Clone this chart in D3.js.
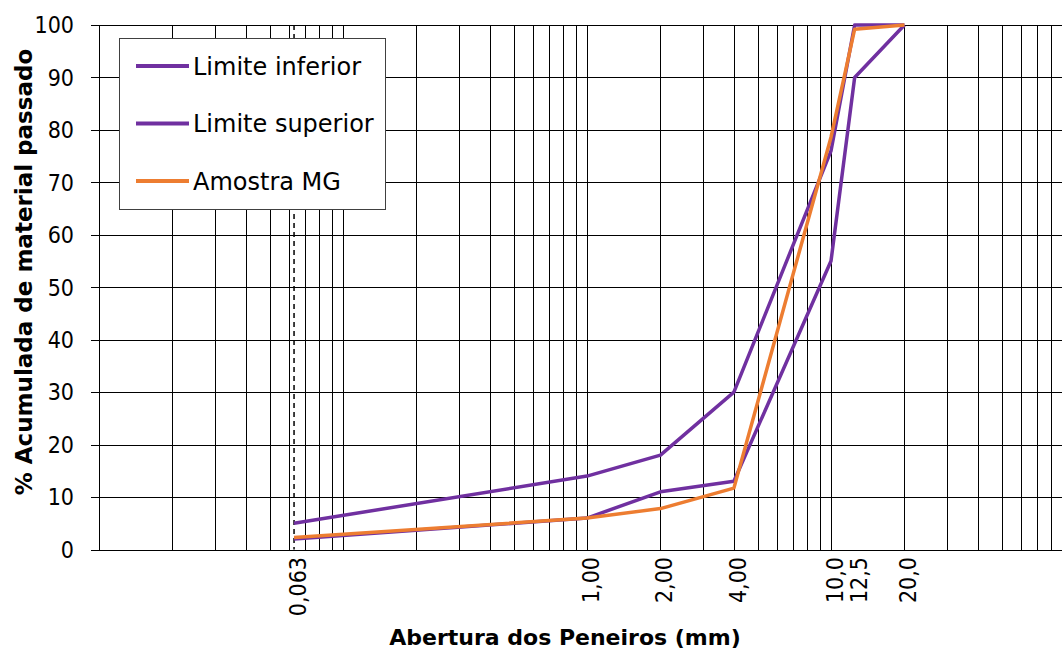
<!DOCTYPE html>
<html>
<head>
<meta charset="utf-8">
<script src="https://d3js.org/d3.v7.min.js"></script>
<style>
  body { margin: 0px; background: #fff; overflow: hidden; }
  .tick-label { font: 23px "DejaVu Sans Condensed", "DejaVu Sans", sans-serif; fill: #000; }
  .legend-label { font: 24px "DejaVu Sans", sans-serif; fill: #000; }
  .axis-title { font: bold 22px "DejaVu Sans", sans-serif; fill: #000; }
  .grid line { stroke: #000; stroke-width: 1; shape-rendering: crispEdges; }
</style>
</head>
<body>
<svg id="chart" width="1062" height="652"></svg>
<script>
// sieve openings (mm) and passing percentages
var sieves = [0.063, 1.00, 2.00, 4.00, 10.0, 12.5, 20.0];
var sieveLabels = ["0,063", "1,00", "2,00", "4,00", "10,0", "12,5", "20,0"];
var limiteInferior = [2, 6, 11, 13, 55, 90, 100];
var limiteSuperior = [5, 14, 18, 30, 76, 100, 100];
var amostraMG = [2.3, 6, 7.8, 11.7, 78.6, 99.2, 100];
var yTicks = [0, 10, 20, 30, 40, 50, 60, 70, 80, 90, 100];

var series = [
  { name: "Limite inferior", values: limiteInferior, color: "#7030A0" },
  { name: "Limite superior", values: limiteSuperior, color: "#7030A0" },
  { name: "Amostra MG", values: amostraMG, color: "#ED7D31" }
];

var svg = d3.select("#chart");

var x = d3.scaleLog().domain([0.01, 100]).range([99, 1075]);
var y = d3.scaleLinear().domain([0, 100]).range([549.5, 25]);

// vertical grid at every log step
var xGrid = [];
for (var e = -2; e < 2; e++) {
  for (var m = 1; m <= 9; m++) xGrid.push(m * Math.pow(10, e));
}
xGrid.push(100);

var grid = svg.append("g").attr("class", "grid");
grid.selectAll("line.v")
  .data(xGrid)
  .enter().append("line")
    .attr("class", "v")
    .attr("x1", function(d) { return Math.round(x(d)) + 0.5; })
    .attr("x2", function(d) { return Math.round(x(d)) + 0.5; })
    .attr("y1", y(100))
    .attr("y2", y(0));

grid.selectAll("line.h")
  .data(yTicks)
  .enter().append("line")
    .attr("class", "h")
    .attr("x1", 91)
    .attr("x2", 1075)
    .attr("y1", function(d) { return Math.round(y(d)) + 0.5; })
    .attr("y2", function(d) { return Math.round(y(d)) + 0.5; });

// dashed line at 0,063
svg.append("line")
  .attr("x1", x(0.063)).attr("x2", x(0.063))
  .attr("y1", y(100)).attr("y2", y(0))
  .attr("stroke", "#000")
  .attr("stroke-width", 1.5)
  .attr("stroke-dasharray", "5,4");

// y tick labels
svg.selectAll("text.ytick")
  .data(yTicks)
  .enter().append("text")
    .attr("class", "tick-label ytick")
    .attr("x", 74)
    .attr("y", function(d) { return y(d); })
    .attr("dy", "0.36em")
    .attr("text-anchor", "end")
    .text(function(d) { return d; });

// x tick labels (rotated)
svg.selectAll("text.xtick")
  .data(sieves)
  .enter().append("text")
    .attr("class", "tick-label xtick")
    .attr("text-anchor", "end")
    .attr("transform", function(d) { return "translate(" + (x(d) + 12) + ",557) rotate(-90)"; })
    .text(function(d, i) { return sieveLabels[i]; });

// lines
var line = d3.line()
  .x(function(d) { return x(d[0]); })
  .y(function(d) { return y(d[1]); });

svg.selectAll("path.serie")
  .data(series)
  .enter().append("path")
    .attr("class", "serie")
    .attr("fill", "none")
    .attr("stroke", function(d) { return d.color; })
    .attr("stroke-width", 3.5)
    .attr("stroke-linejoin", "round")
    .attr("d", function(d) { return line(sieves.map(function(s, i) { return [s, d.values[i]]; })); });

// legend
var legend = svg.append("g");
legend.append("rect")
  .attr("x", 119.5).attr("y", 38.5)
  .attr("width", 266).attr("height", 171)
  .attr("fill", "#fff")
  .attr("stroke", "#404040")
  .attr("stroke-width", 1);

var items = legend.selectAll("g.item")
  .data(series)
  .enter().append("g")
    .attr("class", "item")
    .attr("transform", function(d, i) { return "translate(0," + (66 + i * 57.5) + ")"; });
items.append("line")
  .attr("x1", 136).attr("x2", 189)
  .attr("stroke", function(d) { return d.color; })
  .attr("stroke-width", 3.8);
items.append("text")
  .attr("class", "legend-label")
  .attr("x", 193)
  .attr("dy", "0.36em")
  .text(function(d) { return d.name; });

// axis titles
svg.append("text")
  .attr("class", "axis-title")
  .attr("text-anchor", "middle")
  .attr("transform", "translate(32,272) rotate(-90)")
  .style("font-size", "23px")
  .text("% Acumulada de material passado");

svg.append("text")
  .attr("class", "axis-title")
  .attr("text-anchor", "middle")
  .attr("x", 565)
  .attr("y", 645)
  .text("Abertura dos Peneiros (mm)");
</script>
</body>
</html>
